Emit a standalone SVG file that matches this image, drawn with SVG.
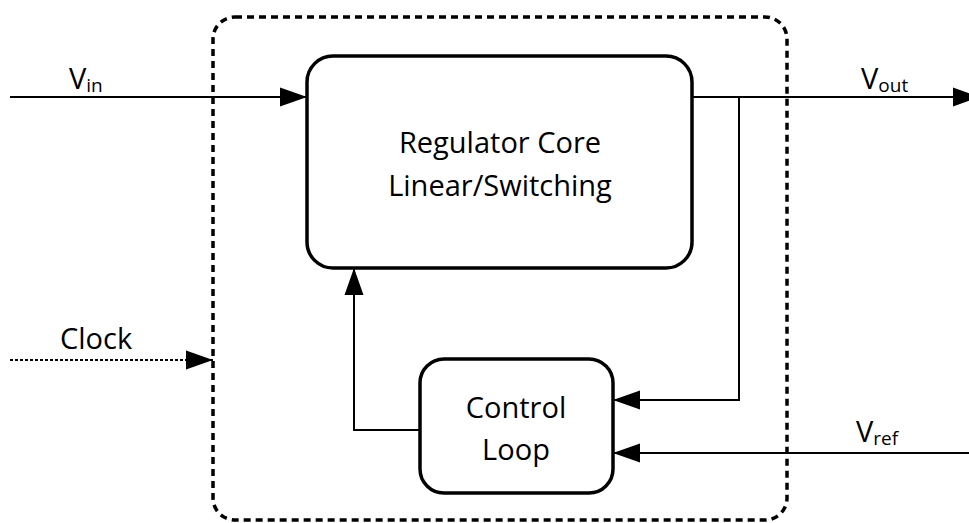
<svg xmlns="http://www.w3.org/2000/svg" width="969" height="523" viewBox="0 0 969 523">
<style>
text{font-family:"Open Sans","Liberation Sans",sans-serif;fill:#000}
.lbl{font-size:29px}
.sub{font-size:19px}
.node{fill:#fff;stroke:#000;stroke-width:3.5}
.wire{fill:none;stroke:#000;stroke-width:2}
</style>
<defs>
<marker id="ah" markerWidth="28" markerHeight="20" refX="27" refY="10" orient="auto" markerUnits="userSpaceOnUse">
<path d="M0,0.5 L27,10 L0,19.5 Z" fill="#000"/>
</marker>
</defs>
<g id="boundary">
<rect x="213" y="17" width="574" height="503" rx="22" fill="none" stroke="#000" stroke-width="3.5" stroke-dasharray="7,5"/>
</g>
<g id="regulator-core">
<rect class="node" x="307" y="56" width="385" height="212" rx="26"/>
<text class="lbl" x="500" y="153" text-anchor="middle">Regulator Core</text>
<text class="lbl" x="500" y="196" text-anchor="middle">Linear/Switching</text>
</g>
<g id="control-loop">
<rect class="node" x="420" y="359" width="193" height="134" rx="24"/>
<text class="lbl" x="516" y="418" text-anchor="middle">Control</text>
<text class="lbl" x="516" y="460" text-anchor="middle">Loop</text>
</g>
<g id="connectors">
<line class="wire" x1="10" y1="97" x2="307" y2="97" marker-end="url(#ah)"/>
<line class="wire" x1="692" y1="97" x2="980" y2="97" marker-end="url(#ah)"/>
<polyline class="wire" points="739,97 739,400 613,400" marker-end="url(#ah)"/>
<line class="wire" x1="969" y1="453" x2="613" y2="453" marker-end="url(#ah)"/>
<polyline class="wire" points="420,430 354,430 354,268" marker-end="url(#ah)"/>
<line class="wire" x1="10" y1="360" x2="213" y2="360" stroke-dasharray="3,2" marker-end="url(#ah)"/>
</g>
<g id="labels">
<text class="lbl" x="69" y="89">V<tspan class="sub" dy="3">in</tspan></text>
<text class="lbl" x="861" y="89">V<tspan class="sub" dy="3">out</tspan></text>
<text class="lbl" x="856" y="442">V<tspan class="sub" dy="3">ref</tspan></text>
<text class="lbl" x="60" y="349">Clock</text>
</g>
</svg>
